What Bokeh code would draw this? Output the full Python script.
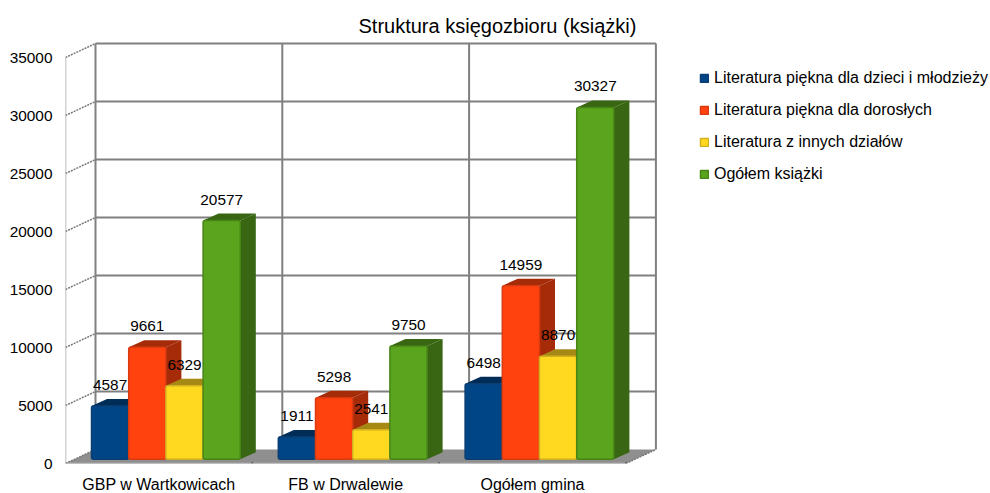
from bokeh.plotting import figure
from bokeh.models import Range1d, LinearAxis, FixedTicker, Legend, LegendItem, Title
from bokeh.embed import file_html
from bokeh.resources import INLINE

title = "Struktura księgozbioru (książki)"
categories = ["GBP w Wartkowicach", "FB w Drwalewie", "Ogółem gmina"]
series_names = ["Literatura piękna dla dzieci i młodzieży", "Literatura piękna dla dorosłych",
                "Literatura z innych działów", "Ogółem książki"]
dzieci = [4587, 1911, 6498]
dorosli = [9661, 5298, 14959]
inne = [6329, 2541, 8870]
ogolem = [20577, 9750, 30327]
y_ticks = [0, 5000, 10000, 15000, 20000, 25000, 30000, 35000]
front_colors = ["#004586", "#ff420e", "#ffd920", "#5aa41e"]
edge_colors = ["#0b3f74", "#d93a10", "#d4b020", "#478416"]
side_colors = ["#002d58", "#a52b09", "#a68915", "#386612"]

W, FRAME_H = 990, 423
LEFT, TOP = 65, 40
CAT_PX = 186.8
Y_PX = 406 / 35000
px = lambda n: n / CAT_PX
py = lambda n: n / Y_PX

WALL_DX, WALL_DY = px(30), py(14)
BAR_W = px(37.2)
BAR_START = px(26)
LIFT = py(4.3)
D_X, D_Y = px(15.5), py(7)
N = len(categories)

p = figure(frame_width=W - LEFT, frame_height=FRAME_H, output_backend="svg", toolbar_location=None,
           x_range=Range1d(0, px(W - LEFT)), y_range=Range1d(0, FRAME_H / Y_PX),
           min_border_left=LEFT, min_border_top=TOP, min_border_bottom=0, min_border_right=0,
           x_axis_type=None, y_axis_type=None, outline_line_color=None, background_fill_color="white")
p.grid.visible = False
p.title = Title(text=title, align="left", offset=293, text_font="Liberation Sans",
                text_font_size="20px", text_font_style="normal", text_color="#000000", standoff=7)

yax = LinearAxis(ticker=FixedTicker(ticks=y_ticks), axis_line_color=None, major_tick_line_color=None,
                 minor_tick_line_color=None, major_tick_in=0, major_tick_out=0,
                 major_label_standoff=13, major_label_text_font="Liberation Sans",
                 major_label_text_font_size="15.4px", major_label_text_color="#000000")
yax.formatter.use_scientific = False
p.add_layout(yax, "left")
xax = LinearAxis(ticker=FixedTicker(ticks=[i + 0.5 for i in range(N)]),
                 major_label_overrides={i + 0.5: c for i, c in enumerate(categories)},
                 axis_line_color=None, major_tick_line_color=None, minor_tick_line_color=None,
                 major_tick_in=0, major_tick_out=0,
                 major_label_standoff=12, major_label_text_font="Liberation Sans",
                 major_label_text_font_size="16px", major_label_text_color="#000000")
p.add_layout(xax, "below")

GRID = "#808080"
# floor
p.patch([0, N, N + WALL_DX, WALL_DX], [0, 0, WALL_DY, WALL_DY], fill_color="#8f8f8f", line_color=None)
# back wall
p.segment([WALL_DX] * len(y_ticks[1:]), [t + WALL_DY for t in y_ticks[1:]],
          [N + WALL_DX] * len(y_ticks[1:]), [t + WALL_DY for t in y_ticks[1:]], line_color=GRID, line_width=2)
p.segment([i + WALL_DX for i in range(N + 1)], [WALL_DY] * (N + 1),
          [i + WALL_DX for i in range(N + 1)], [y_ticks[-1] + WALL_DY] * (N + 1), line_color=GRID, line_width=2)
# left wall
p.segment([0] * len(y_ticks), y_ticks, [WALL_DX] * len(y_ticks), [t + WALL_DY for t in y_ticks],
          line_color="#777777", line_width=1.5, line_dash="2 1")
p.line([0, 0], [0, y_ticks[-1]], line_color="#a8a8a8", line_width=1.5)
# front edges of floor
p.line([0, N], [0, 0], line_color="#9c9c9c", line_width=2.5)
p.line([N, N + WALL_DX], [0, WALL_DY], line_color="#777777", line_width=1.5, line_dash="2 1")
p.segment(list(range(1, N + 1)), [0] * N, list(range(1, N + 1)), [py(1.5)] * N, line_color="#555555", line_width=1.5)

items = []
for s, vals in enumerate([dzieci, dorosli, inne, ogolem]):
    lefts = [i + BAR_START + s * BAR_W for i in range(N)]
    rights = [l + BAR_W for l in lefts]
    tops = [v + LIFT for v in vals]
    p.patches([[r, r + D_X, r + D_X, r] for r in rights],
              [[LIFT, LIFT + D_Y, t + D_Y, t] for t in tops],
              fill_color=side_colors[s], line_color=None)
    p.patches([[l, l + D_X, r + D_X, r] for l, r in zip(lefts, rights)],
              [[t, t + D_Y, t + D_Y, t] for t in tops],
              fill_color=side_colors[s], line_color=None)
    r = p.vbar(x=[(l + e) / 2 for l, e in zip(lefts, rights)], width=BAR_W, bottom=LIFT, top=tops,
               fill_color=front_colors[s], line_color=edge_colors[s], line_width=1.5, border_radius=2)
    items.append(LegendItem(label=series_names[s], renderers=[r]))

for s, vals in enumerate([dzieci, dorosli, inne, ogolem]):
    p.text(x=[i + BAR_START + (s + 0.5) * BAR_W for i in range(N)], y=[v + LIFT + py(21) for v in vals],
           text=[str(v) for v in vals], text_align="center", text_baseline="middle",
           text_font={"value": "Liberation Sans"}, text_font_size={"value": "15.4px"}, text_color="#000000")

legend = Legend(items=items, location=(634, 279), orientation="vertical",
                padding=0, margin=0, spacing=12, glyph_width=10, glyph_height=10, label_height=20,
                label_standoff=5, border_line_color=None, background_fill_alpha=0,
                label_text_font="Liberation Sans", label_text_font_size="16px", label_text_color="#000000")
p.add_layout(legend, "center")

open("out.html", "w").write(file_html(p, INLINE))
